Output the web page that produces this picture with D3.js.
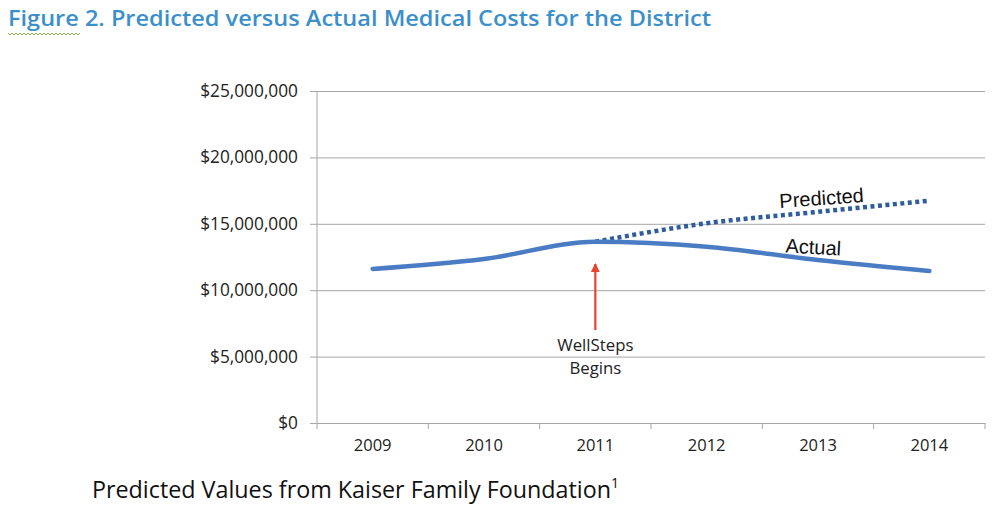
<!DOCTYPE html>
<html>
<head>
<meta charset="utf-8">
<script src="https://cdn.jsdelivr.net/npm/d3@7"></script>
<style>
body { margin: 0; background: #fff; }
svg { display: block; }
</style>
</head>
<body>
<svg id="chart" width="1008" height="508"></svg>
<script>
const years = ["2009", "2010", "2011", "2012", "2013", "2014"];
const actual = [11600000, 12350000, 13650000, 13280000, 12270000, 11450000];
const predictedYears = ["2011", "2012", "2013", "2014"];
const predicted = [13650000, 15040000, 15900000, 16740000];
const yTicks = [0, 5000000, 10000000, 15000000, 20000000, 25000000];

(function () {
const svg = d3.select("#chart");
const pL = 317, pR = 985, pT = 91, pB = 423;

const x = d3.scaleBand().domain(years).range([pL, pR]);
const xc = d => x(d) + x.bandwidth() / 2;
const y = d3.scaleLinear().domain([0, 25000000]).range([pB, pT]);

// Title
svg.append("text")
  .attr("x", 8).attr("y", 26)
  .attr("font-family", "Open Sans, sans-serif")
  .attr("font-weight", "600")
  .attr("font-size", 21)
  .attr("fill", "#3b8fcb")
  .attr("textLength", 703)
  .attr("lengthAdjust", "spacingAndGlyphs")
  .text("Figure 2. Predicted versus Actual Medical Costs for the District");

// spell-check squiggle under "Figure 2."
{
  let p = "M8,33";
  for (let xi = 8; xi < 78; xi += 4) p += ` L${xi + 2},35 L${xi + 4},33`;
  svg.append("path").attr("d", p).attr("fill", "none").attr("stroke", "#8cb84a").attr("stroke-width", 1);
}

const tickFont = "Open Sans, sans-serif";

// gridlines + y axis
const yAxis = d3.axisLeft(y).tickValues(yTicks).tickSize(-(pR - pL)).tickPadding(19)
  .tickFormat(d => "$" + d3.format(",")(d));
const gy = svg.append("g").attr("transform", `translate(${pL},0)`).call(yAxis);
gy.select(".domain").remove();
gy.selectAll(".tick line").attr("stroke", "#a6a6a6").attr("x1", -7);
gy.selectAll(".tick text")
  .attr("font-family", tickFont).attr("font-size", 17.3).attr("fill", "#222");
svg.append("line").attr("x1", pL).attr("x2", pL).attr("y1", pT).attr("y2", pB)
  .attr("stroke", "#a6a6a6");

// x axis
const xAxis = d3.axisBottom(x).tickSize(0).tickPadding(16);
const gx = svg.append("g").attr("transform", `translate(0,${pB})`).call(xAxis);
gx.select(".domain").attr("stroke", "#a6a6a6");
gx.selectAll(".tick text")
  .attr("font-family", tickFont).attr("font-size", 16.5).attr("fill", "#222");
const bounds = years.map(d => x(d)).concat([x(years[years.length - 1]) + x.bandwidth()]);
svg.append("g").selectAll("line").data(bounds).join("line")
  .attr("x1", d => d).attr("x2", d => d).attr("y1", pB).attr("y2", pB + 6)
  .attr("stroke", "#a6a6a6");

// lines
const line = d3.line().curve(d3.curveMonotoneX);
svg.append("path")
  .attr("d", line(predictedYears.map((d, i) => [xc(d), y(predicted[i])])))
  .attr("fill", "none").attr("stroke", "#2f5d9b").attr("stroke-width", 4.5)
  .attr("stroke-dasharray", "4,3.5");
svg.append("path")
  .attr("d", line(years.map((d, i) => [xc(d), y(actual[i])])))
  .attr("fill", "none").attr("stroke", "#4a7cc3").attr("stroke-width", 4.5)
  .attr("stroke-linecap", "round");

// line labels
svg.append("text").attr("transform", "translate(822,205) rotate(-4)")
  .attr("text-anchor", "middle").attr("font-family", "Liberation Sans, Arial, sans-serif")
  .attr("font-size", 20).attr("fill", "#111").text("Predicted");
svg.append("text").attr("transform", "translate(813,254) rotate(3)")
  .attr("text-anchor", "middle").attr("font-family", "Liberation Sans, Arial, sans-serif")
  .attr("font-size", 20).attr("fill", "#111").text("Actual");

// arrow annotation
const ax = xc("2011");
svg.append("defs").append("marker").attr("id", "ah")
  .attr("viewBox", "0 0 10 10").attr("refX", 9).attr("refY", 5)
  .attr("markerWidth", 4).attr("markerHeight", 4).attr("orient", "auto")
  .append("path").attr("d", "M0,0 L10,5 L0,10 Z").attr("fill", "#e8452c");
svg.append("line").attr("x1", ax).attr("x2", ax).attr("y1", 330).attr("y2", 264)
  .attr("stroke", "#e8452c").attr("stroke-width", 2.2).attr("marker-end", "url(#ah)");
svg.append("text").attr("x", ax).attr("y", 351).attr("text-anchor", "middle")
  .attr("font-family", tickFont).attr("font-size", 16.8).attr("fill", "#222")
  .text("WellSteps");
svg.append("text").attr("x", ax).attr("y", 374).attr("text-anchor", "middle")
  .attr("font-family", tickFont).attr("font-size", 16.8).attr("fill", "#222")
  .text("Begins");

// footnote
const fn = svg.append("text").attr("x", 92).attr("y", 498)
  .attr("font-family", tickFont).attr("font-size", 23.3).attr("fill", "#111");
fn.append("tspan").text("Predicted Values from Kaiser Family Foundation");
fn.append("tspan").attr("font-size", 14).attr("dy", -10).text("1");
})();
</script>
</body>
</html>
